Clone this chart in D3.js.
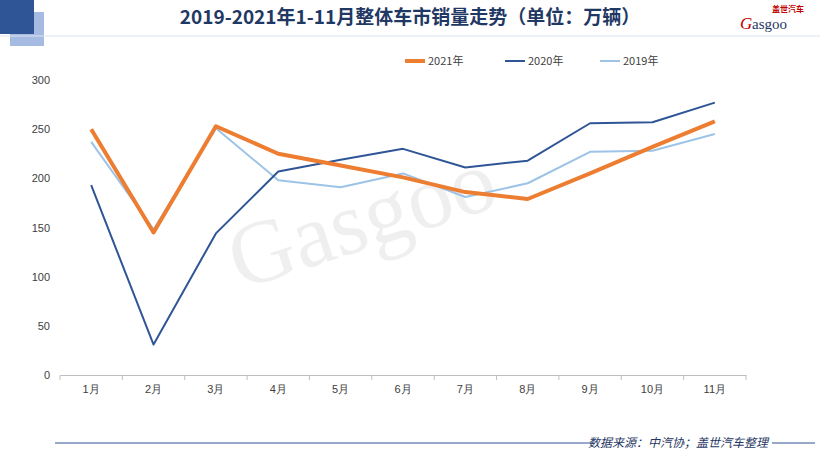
<!DOCTYPE html>
<html><head><meta charset="utf-8">
<script src="https://cdn.jsdelivr.net/npm/d3@7"></script>
<style>body{margin:0;background:#fff}svg{font-family:"Noto Sans CJK SC","Noto Sans",sans-serif}</style>
</head><body><svg id="c" width="820" height="452"></svg>
<script>
const months=["1月","2月","3月","4月","5月","6月","7月","8月","9月","10月","11月"];
const s2021=[250,145,253,225,213,201,186,179,205,232,258];
const s2020=[193,31,144,207,219,230,211,218,256,257,277];
const s2019=[237,148,251,198,191,205,181,195,227,228,245];
const yTicks=[0,50,100,150,200,250,300];
const series=[{name:"2021年",v:s2021,c:"#ed7d31",w:4},{name:"2020年",v:s2020,c:"#2f5597",w:2},{name:"2019年",v:s2019,c:"#9dc3e6",w:2}];
const svg=d3.select("#c");
svg.append("rect").attr("x",10).attr("y",12).attr("width",34).attr("height",34).attr("fill","#8eaadb").attr("opacity",0.8);
svg.append("rect").attr("x",0).attr("y",0).attr("width",34).attr("height",34).attr("fill","#2f5597");
svg.append("text").attr("x",410).attr("y",24).attr("text-anchor","middle").attr("font-size",19).attr("font-weight","bold").attr("fill","#1f3864").text("2019-2021年1-11月整体车市销量走势（单位：万辆）");
svg.append("text").attr("x",772).attr("y",12).attr("font-size",8).attr("font-weight","bold").attr("fill","#c00000").text("盖世汽车");
svg.append("text").attr("x",740).attr("y",29).attr("font-size",17).attr("font-style","italic").attr("font-family","Liberation Serif").attr("fill","#c00000").text("G");
svg.append("text").attr("x",752).attr("y",29).attr("font-size",15).attr("font-family","Liberation Serif").attr("fill","#1f3864").text("asgoo");
svg.append("line").attr("x1",0).attr("x2",820).attr("y1",36).attr("y2",36).attr("stroke","#dde3ee");
svg.append("text").attr("x",240).attr("y",290).attr("font-size",90).attr("font-family","Liberation Serif").attr("fill","#000").attr("opacity",0.06).attr("transform","rotate(-18,240,290)").text("Gasgoo");
const x=d3.scaleBand().domain(months).range([60,746]);
const y=d3.scaleLinear().domain([0,300]).range([375,80]);
const gy=svg.append("g").attr("transform","translate(60,0)").call(d3.axisLeft(y).tickValues(yTicks).tickSize(0).tickPadding(10));
gy.select(".domain").remove();
gy.selectAll("text").attr("font-size",11).attr("fill","#404040");
const gx=svg.append("g").attr("transform","translate(0,375)").call(d3.axisBottom(x).tickSize(0).tickPadding(10));
gx.select(".domain").attr("stroke","#bfbfbf");
gx.selectAll("text").attr("font-size",11).attr("fill","#404040");
const b=months.map(m=>x(m)).concat([746]);
svg.selectAll(".tk").data(b).enter().append("line").attr("x1",d=>d).attr("x2",d=>d).attr("y1",375).attr("y2",380).attr("stroke","#bfbfbf");
const line=d3.line().x((d,i)=>x(months[i])+x.bandwidth()/2).y(d=>y(d));
[...series].reverse().forEach(s=>svg.append("path").attr("d",line(s.v)).attr("fill","none").attr("stroke",s.c).attr("stroke-width",s.w).attr("stroke-linejoin","round"));
const lx=[405,505,600];
series.forEach((s,i)=>{svg.append("line").attr("x1",lx[i]).attr("x2",lx[i]+20).attr("y1",61).attr("y2",61).attr("stroke",s.c).attr("stroke-width",s.w);
svg.append("text").attr("x",lx[i]+23).attr("y",65).attr("font-size",11).attr("fill","#404040").text(s.name);});
svg.append("line").attr("x1",55).attr("x2",595).attr("y1",443).attr("y2",443).attr("stroke","#2f5597");
svg.append("line").attr("x1",772).attr("x2",815).attr("y1",443).attr("y2",443).attr("stroke","#2f5597");
svg.append("text").attr("x",768).attr("y",447).attr("text-anchor","end").attr("font-size",12).attr("font-style","italic").attr("fill","#1f3864").text("数据来源：中汽协；盖世汽车整理");
</script></body></html>
